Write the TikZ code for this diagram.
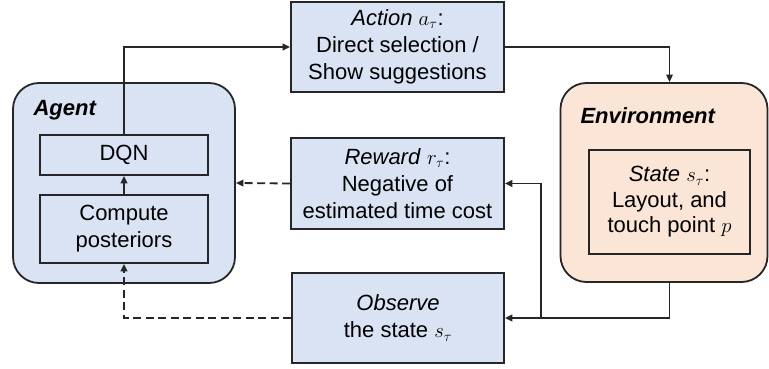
\documentclass[tikz,border=0pt]{standalone}
\usepackage{fontspec}
\setmainfont{Liberation Sans}
\usetikzlibrary{arrows.meta}
\definecolor{bluefill}{HTML}{DAE3F3}
\definecolor{orangefill}{HTML}{FBE5D6}
\definecolor{linec}{HTML}{262626}
\begin{document}
\begin{tikzpicture}[x=1pt,y=-1pt,
  every node/.style={font=\fontsize{22}{27}\selectfont, text=black},
  bigbox/.style={draw=linec, line width=1.8pt, rounded corners=26pt, inner sep=0pt},
  sqbox/.style={draw=linec, line width=1.6pt, align=center, inner sep=0pt},
  arr/.style={draw=linec, line width=1.8pt, -{Triangle[length=7.5pt,width=6.5pt]}},
  darr/.style={arr, dash pattern=on 8pt off 4.5pt}]
\useasboundingbox (0,0) rectangle (769,369);
% big containers
\node[bigbox, fill=bluefill, minimum width=222pt, minimum height=200pt] (agent) at (124,183) {};
\node[bigbox, fill=orangefill, minimum width=207pt, minimum height=199pt] (env) at (664,182.5) {};
\node[anchor=base west, font=\fontsize{22}{27}\selectfont\bfseries\itshape] (agentlbl) at (30,116) {Agent};
\node[anchor=base west, font=\fontsize{22}{27}\selectfont\bfseries\itshape] (envlbl) at (577,123) {Environment};
% inner boxes
\node[sqbox, fill=bluefill, minimum width=168pt, minimum height=40pt] (dqn) at (124,155) {DQN};
\node[sqbox, fill=bluefill, minimum width=168pt, minimum height=68pt] (comp) at (124,229) {Compute\\posteriors};
\node[sqbox, fill=orangefill, minimum width=161pt, minimum height=104pt, font=\fontsize{22}{25.5}\selectfont] (state) at (669.5,202) {\textit{State} $s_\tau$:\\Layout, and\\touch point $p$};
% message boxes
\node[sqbox, fill=bluefill, minimum width=213pt, minimum height=90pt] (action) at (397.5,47) {\textit{Action} $a_\tau$:\\Direct selection /\\Show suggestions};
\node[sqbox, fill=bluefill, minimum width=213pt, minimum height=91pt] (reward) at (397.5,183.5) {\textit{Reward} $r_\tau$:\\Negative of\\estimated time cost};
\node[sqbox, fill=bluefill, minimum width=212pt, minimum height=90pt] (obs) at (398,318) {\textit{Observe}\\the state $s_\tau$};
% connectors
\coordinate (br) at (541,318);
\draw[arr] (comp.north) -- (dqn.south);
\draw[arr] (dqn.north) |- (action.west);
\draw[arr] (action.east) -| (state.north |- env.north);
\draw[arr] (state.south |- env.south) |- (obs.east);
\draw[arr] (br) |- (reward.east);
\draw[darr] (reward.west) -- (agent.east);
\draw[darr] (obs.west) -| (comp.south);
\end{tikzpicture}
\end{document}
